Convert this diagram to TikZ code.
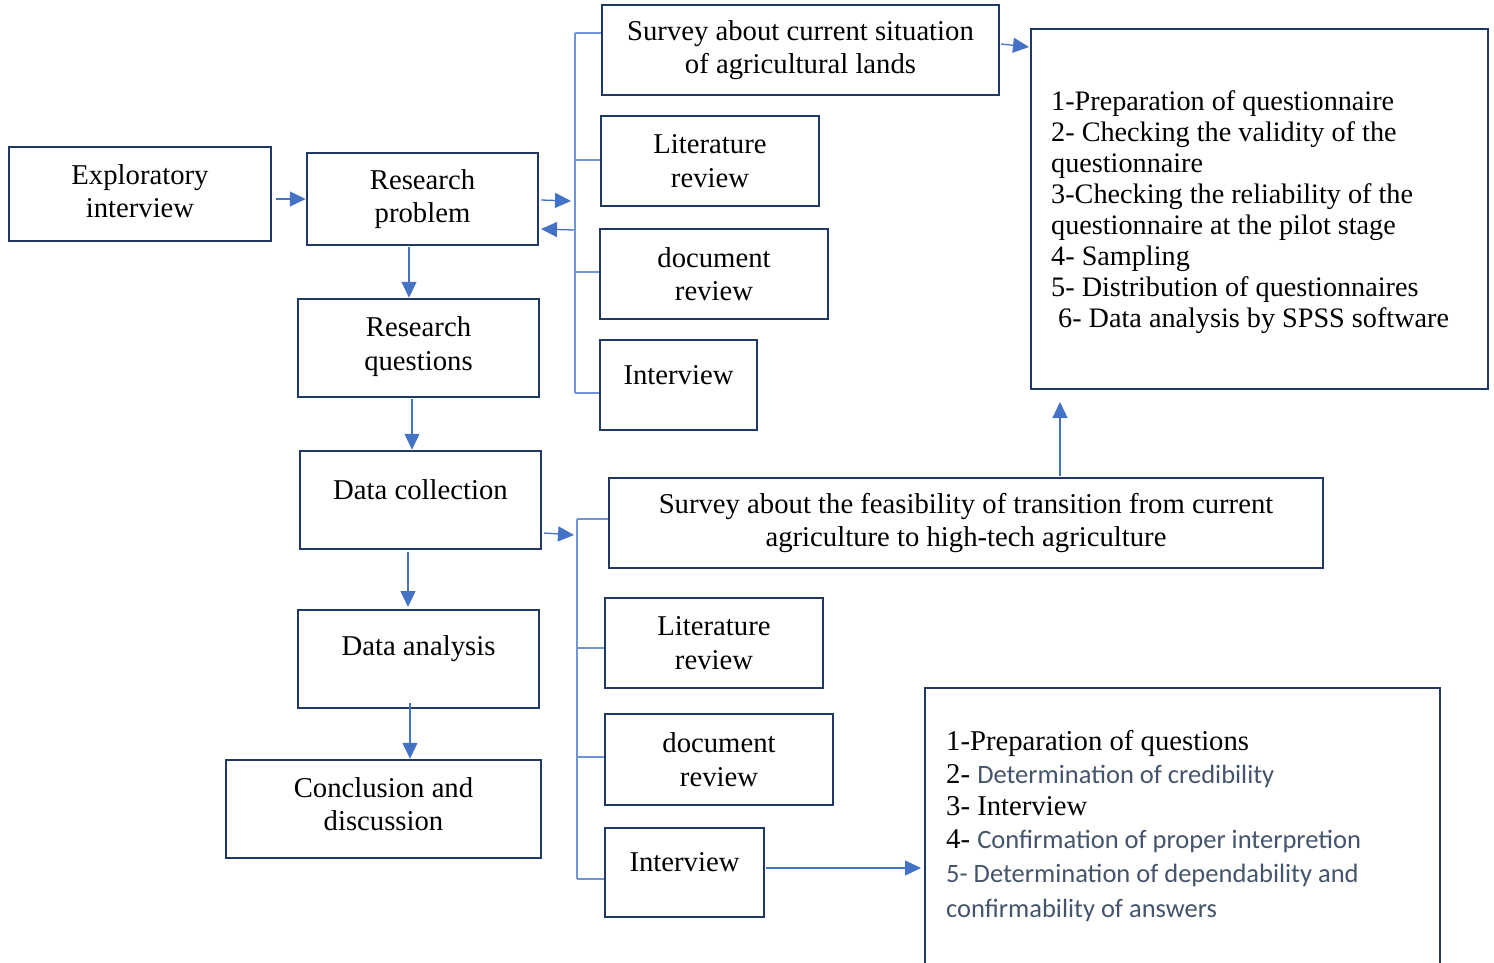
\documentclass[tikz,border=0pt]{standalone}
\usepackage{fontspec}
\setmainfont{Liberation Serif}
\newfontfamily\calibfont{Carlito}
\usetikzlibrary{arrows.meta}
\definecolor{navy}{HTML}{203864}
\definecolor{arrblue}{HTML}{4472C4}
\definecolor{brk}{HTML}{6F95D6}
\definecolor{slate}{HTML}{44546A}
\begin{document}
\begin{tikzpicture}[x=1pt,y=-1pt,
 txt/.style={font=\fontsize{28.7}{33.5}\selectfont},
 box/.style={draw=navy, line width=2.5pt, align=center, inner sep=0pt, txt},
 toplab/.style={label={[txt,yshift=10pt]center:#1}},
 shiftlab/.style 2 args={label={[txt,align=center,yshift=#1]center:#2}},
 arr/.style={draw=arrblue, line width=1.3pt, -{Triangle[length=16pt,width=15pt]}},
 brline/.style={draw=brk, line width=1.2pt}]
\useasboundingbox (0,0) rectangle (1494,962);
% left column
\node[box, minimum width=262pt, minimum height=94pt, shiftlab={3pt}{Exploratory\\interview}] (ex) at (140,194) {};
\node[box, minimum width=231pt, minimum height=92pt] (rp) at (422.5,199) {Research\\problem};
\node[box, minimum width=241pt, minimum height=98pt, shiftlab={1.5pt}{Research\\questions}] (rq) at (418.5,348) {};
\node[box, minimum width=241pt, minimum height=98pt, toplab={Data collection}] (dc) at (420.5,500) {};
\node[box, minimum width=241pt, minimum height=98pt, toplab={Data analysis}] (da) at (418.5,659) {};
\node[box, minimum width=315pt, minimum height=98pt, shiftlab={5pt}{Conclusion and\\discussion}] (cd) at (383.5,809) {};
% upper middle
\node[box, minimum width=397pt, minimum height=90pt] (sc) at (800.5,50) {Survey about current situation\\of agricultural lands};
\node[box, minimum width=218pt, minimum height=90pt] (lt) at (710,161) {Literature\\review};
\node[box, minimum width=228pt, minimum height=90pt] (dt) at (714,274) {document\\review};
\node[box, minimum width=157pt, minimum height=90pt, toplab={Interview}] (it) at (678.5,385) {};
% lower middle
\node[box, minimum width=714pt, minimum height=90pt] (fs) at (966,523) {Survey about the feasibility of transition from current\\agriculture to high-tech agriculture};
\node[box, minimum width=218pt, minimum height=90pt] (lb) at (714,643) {Literature\\review};
\node[box, minimum width=228pt, minimum height=91pt] (db) at (719,759.5) {document\\review};
\node[box, minimum width=159pt, minimum height=89pt, toplab={Interview}] (ib) at (684.5,872.5) {};
% right boxes
\node[box, minimum width=457pt, minimum height=360pt] (tr) at (1259.5,209) {};
\node[txt, anchor=north west, align=left, inner sep=0pt, font=\fontsize{28.2}{31.1}\selectfont] (trtext) at (1051,90) {1-Preparation of questionnaire\\2- Checking the validity of the\\questionnaire\\3-Checking the reliability of the\\questionnaire at the pilot stage\\4- Sampling\\5- Distribution of questionnaires\\\hspace{7pt}6- Data analysis by SPSS software};
\node[box, minimum width=515pt, minimum height=324pt] (br) at (1182.5,850) {};
\node[txt, anchor=north west, align=left, inner sep=0pt, font=\fontsize{28.7}{32.6}\selectfont] (brtext) at (946,730) {1-Preparation of questions\\2- {\calibfont\fontsize{26.5}{32.6}\selectfont\color{slate}Determination of credibility}\\3- Interview\\4- {\calibfont\fontsize{26.5}{32.6}\selectfont\color{slate}Confirmation of proper interpretion}\\[2pt]{\calibfont\fontsize{26.5}{32.6}\selectfont\color{slate}5- Determination of dependability and}\\[2pt]{\calibfont\fontsize{26.5}{32.6}\selectfont\color{slate}confirmability of answers}};
% upper bracket
\coordinate (u0) at (575,33);
\coordinate (u1) at (575,160);
\coordinate (u2) at (575,272);
\coordinate (u3) at (575,393);
\draw[brline] (u0) -- (u3);
\draw[brline] (u0) -- (u0 -| sc.west);
\draw[brline] (u1) -- (u1 -| lt.west);
\draw[brline] (u2) -- (u2 -| dt.west);
\draw[brline] (u3) -- (u3 -| it.west);
% lower bracket
\coordinate (l0) at (577,519);
\coordinate (l1) at (577,648);
\coordinate (l2) at (577,757);
\coordinate (l3) at (577,879);
\draw[brline] (l0) -- (l3);
\draw[brline] (l0) -- (l0 -| fs.west);
\draw[brline] (l1) -- (l1 -| lb.west);
\draw[brline] (l2) -- (l2 -| db.west);
\draw[brline] (l3) -- (l3 -| ib.west);
% arrows
\coordinate (e1) at (276,199);
\draw[arr] (e1) -- (e1 -| rp.west);
\coordinate (r1) at (541,200);
\coordinate (r2) at (571,201);
\draw[arr] (r1) -- (r2);
\coordinate (r3) at (574,230);
\coordinate (r4) at (541,229);
\draw[arr] (r3) -- (r4);
\coordinate (d1) at (409,247);
\draw[arr] (d1) -- (d1 |- rq.north);
\coordinate (d2) at (412,399);
\draw[arr] (d2) -- (d2 |- dc.north);
\coordinate (d3) at (408,552);
\draw[arr] (d3) -- (408,607);
\coordinate (d4) at (410,703);
\draw[arr] (d4) -- (d4 |- cd.north);
\coordinate (c1) at (544,533);
\coordinate (c2) at (574,535);
\draw[arr] (c1) -- (c2);
\coordinate (s1) at (1001,44);
\draw[arr] (s1) -- (1029,47);
\coordinate (f1) at (1060,476);
\coordinate (f2) at (1060,402);
\draw[arr] (f1) -- (f2);
\coordinate (i1) at (766,868);
\draw[arr] (i1) -- (921,868);
\end{tikzpicture}
\end{document}
